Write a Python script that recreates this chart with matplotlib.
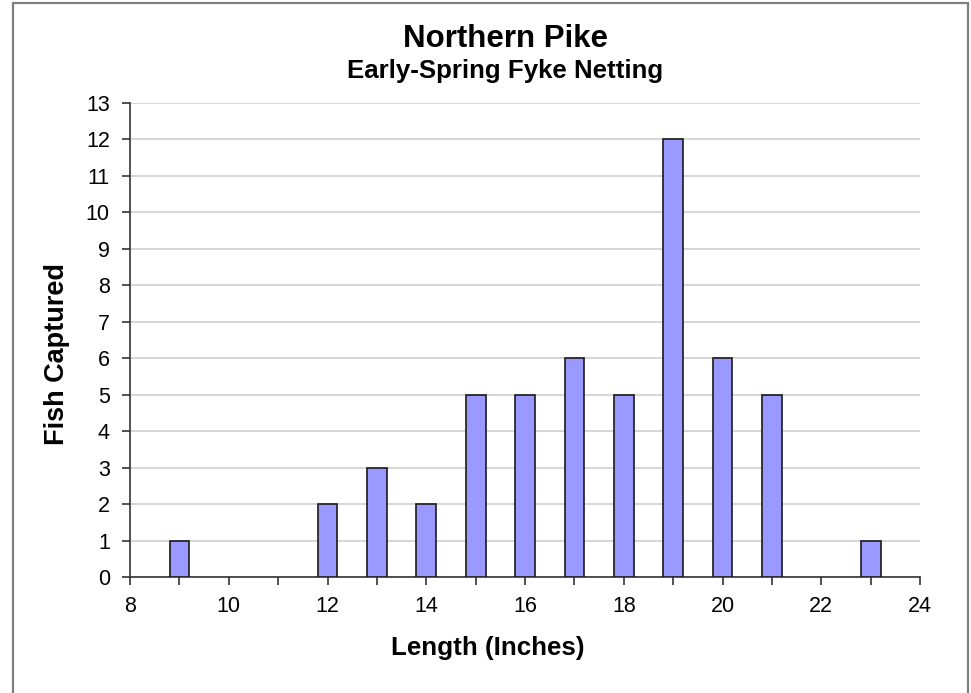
import matplotlib
matplotlib.use("Agg")
import matplotlib.pyplot as plt
from matplotlib.patches import Rectangle
from matplotlib.ticker import MultipleLocator

plt.rcParams['font.family'] = ['Liberation Sans', 'DejaVu Sans']

# Catch by length class
lengths = [9, 12, 13, 14, 15, 16, 17, 18, 19, 20, 21, 23]
counts = [1, 2, 3, 2, 5, 5, 6, 5, 12, 6, 5, 1]

title = "Northern Pike"
subtitle = "Early-Spring Fyke Netting"
xlabel = "Length (Inches)"
ylabel = "Fish Captured"

W, H = 971, 693
fig = plt.figure(figsize=(W / 100, H / 100), dpi=100)
fig.patches.append(Rectangle((13 / W, -0.05), (968 - 13) / W, 1.05 - 3 / H,
                             transform=fig.transFigure, fill=False,
                             edgecolor='#7f7f7f', linewidth=1.6))

ax = fig.add_axes([130 / W, 1 - 577 / H, (920 - 130) / W, (577 - 103) / H])
ax.bar(lengths, counts, width=0.4, color='#9999ff', edgecolor='#1a1a1a',
       linewidth=1.2, zorder=3)

ax.set_xlim(8, 24)
ax.set_ylim(0, 13)
ax.xaxis.set_major_locator(MultipleLocator(2))
ax.xaxis.set_minor_locator(MultipleLocator(1))
ax.yaxis.set_major_locator(MultipleLocator(1))
ax.grid(axis='y', color='#d0d0d0', linewidth=1.2, zorder=0)

for s in ('top', 'right'):
    ax.spines[s].set_visible(False)
for s in ('left', 'bottom'):
    ax.spines[s].set_color('#333333')
    ax.spines[s].set_linewidth(1.2)

ax.tick_params(axis='both', which='major', length=6, width=1.2, color='#333333',
               labelsize=15.5, labelcolor='black')
ax.tick_params(axis='x', which='major', pad=8)
ax.tick_params(axis='y', which='major', pad=8.5)
ax.tick_params(axis='x', which='minor', length=6, width=1.2, color='#333333')

fig.text(488 / W, 1 - 655 / H, xlabel, ha='center', va='baseline',
         fontsize=18.7, fontweight='bold')
fig.text(57 / W, 1 - 354 / H, ylabel, ha='center', va='center', rotation=90,
         fontsize=19.5, fontweight='bold')

fig.text(505 / W, 1 - 47 / H, title, ha='center', va='baseline',
         fontsize=22.5, fontweight='bold')
fig.text(505 / W, 1 - 78 / H, subtitle, ha='center', va='baseline',
         fontsize=18.6, fontweight='bold')

fig.savefig("out.png", dpi=100)
